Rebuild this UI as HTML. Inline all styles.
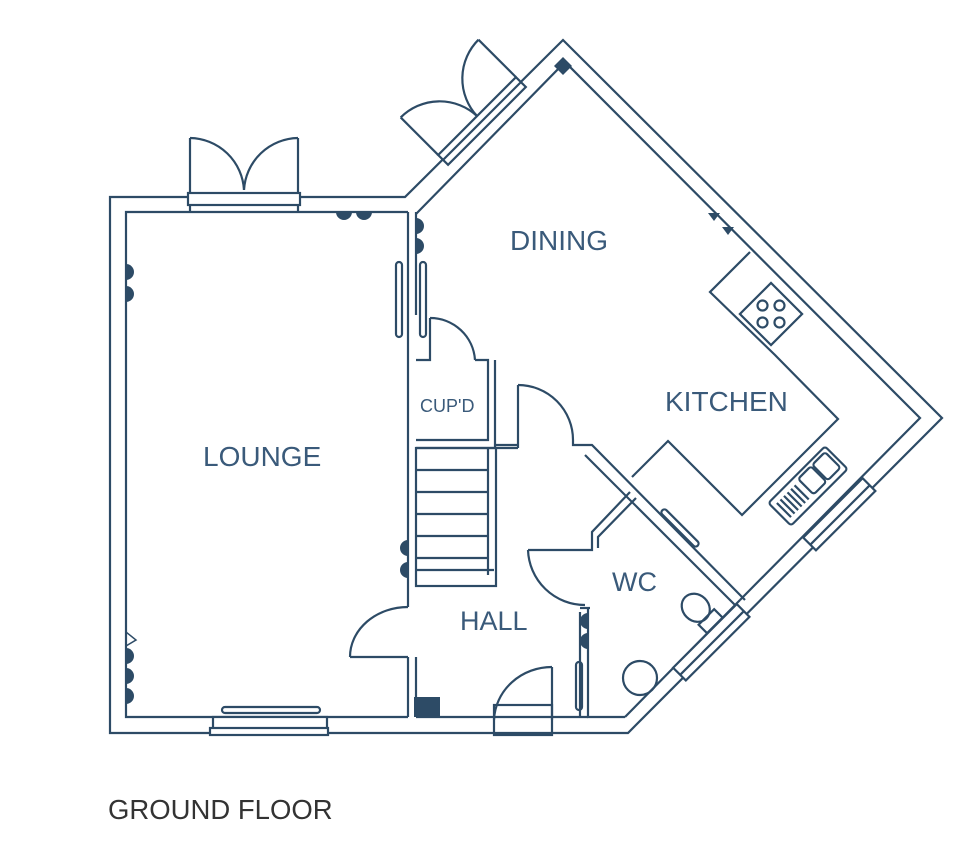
<!DOCTYPE html>
<html><head><meta charset="utf-8"><style>
html,body{margin:0;padding:0;background:#fff;width:974px;height:867px;overflow:hidden}
svg{display:block}
text{font-family:"Liberation Sans",sans-serif;fill:#3a5a7a}
</style></head><body>
<svg width="974" height="867" viewBox="0 0 974 867" xmlns="http://www.w3.org/2000/svg">
<g fill="none" stroke="#2d4b66" stroke-width="2.2" stroke-linejoin="miter">
<polygon points="110,197 405,197 563,40 942,418 628,733 110,733"/>
<polyline points="408,212 126,212 126,717 408,717"/>
<line x1="408" y1="212" x2="408" y2="607"/>
<line x1="408" y1="657" x2="408" y2="717"/>
<line x1="416" y1="212" x2="416" y2="315"/>
<line x1="416" y1="657" x2="416" y2="717"/>
<polyline points="416,214 565,62 920,418 740,600"/>
<polyline points="625,717 588,717 588,608"/>
<polyline points="740,600 625,717"/>
<line x1="416" y1="717" x2="588" y2="717"/>
<polyline points="416,360 430,360 430,318"/>
<path d="M430,318 A45,45 0 0 1 475,360"/>
<polyline points="475,360 488,360 488,440 416,440"/>
<polyline points="495,360 495,448"/>
<line x1="416" y1="448" x2="518" y2="448"/>
<line x1="495" y1="445" x2="518" y2="445"/>
<rect x="416" y="448" width="80" height="138"/>
<line x1="416" y1="470" x2="488" y2="470"/><line x1="416" y1="492" x2="488" y2="492"/>
<line x1="416" y1="514" x2="488" y2="514"/><line x1="416" y1="536" x2="488" y2="536"/>
<line x1="416" y1="558" x2="488" y2="558"/><line x1="416" y1="570" x2="494" y2="570"/>
<line x1="488" y1="448" x2="488" y2="575"/>
<polyline points="518,448 518,385"/>
<path d="M518,385 A55,55 0 0 1 573,440"/>
<polyline points="573,440 573,445 592,445 745,600"/>
<polyline points="585,455 736,606"/>
<polyline points="630,492 592,532 592,550 528,550"/>
<polyline points="636,498 598,537 598,548"/>
<path d="M528,550 A57,57 0 0 0 585,605"/>
<line x1="580" y1="608" x2="590" y2="608"/>
<line x1="580" y1="612" x2="580" y2="717"/>
<polyline points="408,657 350,657"/>
<path d="M350,657 A58,50 0 0 1 408,607"/>
<rect x="494" y="705" width="58" height="30"/>
<line x1="552" y1="667" x2="552" y2="720"/>
<path d="M494,720 A58,55 0 0 1 552,667"/>
<rect x="213" y="717" width="114" height="16" fill="#fff"/>
<rect x="210" y="728" width="118" height="7" fill="#fff"/>
<rect x="222" y="707" width="98" height="6" rx="3"/>
<rect x="188" y="193" width="112" height="12" fill="#fff"/>
<line x1="190" y1="205" x2="190" y2="212"/><line x1="298" y1="205" x2="298" y2="212"/>
<polyline points="190,193 190,138"/><polyline points="298,193 298,138"/>
<path d="M190,138 A55,55 0 0 1 244,190"/>
<path d="M298,138 A55,55 0 0 0 244,190"/>
<g transform="translate(482,121) rotate(-45)">
<rect x="-55" y="-7" width="110" height="14" fill="#fff"/>
<line x1="-55" y1="0" x2="55" y2="0"/>
<polyline points="-55,-7 -55,-60"/><polyline points="55,-7 55,-60"/>
<path d="M-55,-60 A55,55 0 0 1 0,-7"/>
<path d="M55,-60 A55,55 0 0 0 0,-7"/>
</g>
<polyline points="750,252 710,292 775,355 838,419 742,515 668,441 632,477"/>
<g transform="translate(771,314) rotate(-45)">
<rect x="-22" y="-22" width="44" height="44"/>
<circle cx="-12" cy="0" r="5"/><circle cx="12" cy="0" r="5"/><circle cx="0" cy="-12" r="5"/><circle cx="0" cy="12" r="5"/>
</g>
<g transform="translate(808,486) rotate(-45)">
<rect x="-40" y="-16" width="80" height="32" rx="3"/>
<rect x="-2" y="-12" width="18" height="22" rx="3"/><rect x="18" y="-12" width="18" height="22" rx="3"/>
<line x1="-34" y1="-10" x2="-34" y2="10"/><line x1="-29" y1="-10" x2="-29" y2="10"/><line x1="-24" y1="-10" x2="-24" y2="10"/><line x1="-19" y1="-10" x2="-19" y2="10"/><line x1="-14" y1="-10" x2="-14" y2="10"/><line x1="-9" y1="-10" x2="-9" y2="10"/>
</g>
<g transform="translate(840,515) rotate(-45)">
<rect x="-42" y="-10" width="84" height="18" fill="#fff"/><line x1="-42" y1="0" x2="42" y2="0"/>
</g>
<g transform="translate(712,643) rotate(-45)">
<rect x="-45" y="-10" width="90" height="18" fill="#fff"/><line x1="-45" y1="0" x2="45" y2="0"/>
</g>
<g transform="translate(700,612) rotate(-45)">
<rect x="-10" y="8" width="22" height="12"/>
<ellipse cx="0" cy="-6" rx="13" ry="15"/>
</g>
<circle cx="640" cy="678" r="17"/>
<rect x="396" y="262" width="6" height="75" rx="3"/>
<rect x="420" y="262" width="6" height="75" rx="3"/>
<rect x="576" y="662" width="6" height="48" rx="3"/>
<g transform="translate(680,528) rotate(45)"><rect x="-25" y="-3" width="50" height="6" rx="3"/></g>
</g>
<g fill="#2d4b66">
<rect x="414" y="697" width="26" height="20"/>
<polygon points="563,57 572,66 563,75 554,66"/>
<path d="M336,212 a8,8 0 0 0 16,0z M356,212 a8,8 0 0 0 16,0z"/>
<path d="M416,218 a8,8 0 0 1 0,16z M416,238 a8,8 0 0 1 0,16z"/>
<path d="M126,264 a8,8 0 0 1 0,16z M126,286 a8,8 0 0 1 0,16z"/>
<path d="M408,540 a8,8 0 0 0 0,16z M408,562 a8,8 0 0 0 0,16z"/>
<path d="M126,648 a8,8 0 0 1 0,16z M126,668 a8,8 0 0 1 0,16z M126,688 a8,8 0 0 1 0,16z"/>
<path d="M588,613 a8,8 0 0 0 0,16z M588,633 a8,8 0 0 0 0,16z"/>
<path d="M708,213 l12,0 l-6,8z M722,227 l12,0 l-6,8z"/>
</g>
<path d="M126,632 l10,8 l-10,6" fill="none" stroke="#2d4b66" stroke-width="1.5"/>
<text x="510" y="250" font-size="28">DINING</text>
<text x="665" y="411" font-size="28">KITCHEN</text>
<text x="203" y="466" font-size="28">LOUNGE</text>
<text x="420" y="412" font-size="18">CUP'D</text>
<text x="460" y="630" font-size="27">HALL</text>
<text x="612" y="591" font-size="27">WC</text>
<text x="108" y="819" font-size="27.5" style="fill:#333">GROUND FLOOR</text>
</svg>
</body></html>
